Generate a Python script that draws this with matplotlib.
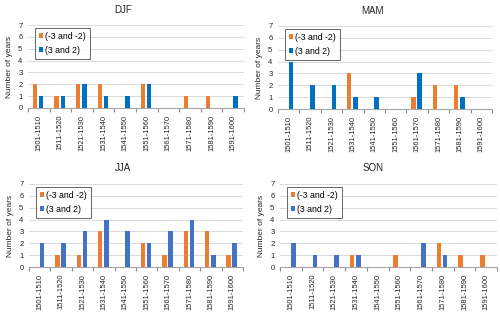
import numpy as np
import matplotlib
matplotlib.use("Agg")
import matplotlib.pyplot as plt
from matplotlib.ticker import FixedLocator

# ============================================================
#  Data
# ============================================================
decades = ["1501-1510", "1511-1520", "1521-1530", "1531-1540", "1541-1550",
           "1551-1560", "1561-1570", "1571-1580", "1581-1590", "1591-1600"]

djf_neg = [2, 1, 2, 2, 0, 2, 0, 1, 1, 0]
djf_pos = [1, 1, 2, 1, 1, 2, 0, 0, 0, 1]
mam_neg = [0, 0, 0, 3, 0, 0, 1, 2, 2, 0]
mam_pos = [4, 2, 2, 1, 1, 0, 3, 0, 1, 0]
jja_neg = [0, 1, 1, 3, 0, 2, 1, 3, 3, 1]
jja_pos = [2, 2, 3, 4, 3, 2, 3, 4, 1, 2]
son_neg = [0, 0, 0, 1, 0, 1, 0, 2, 1, 1]
son_pos = [2, 1, 1, 1, 0, 0, 2, 1, 0, 0]

labels = ["(-3 and -2)", "(3 and 2)"]
ORANGE = "#ED7D31"

W, H = 500, 315

# panel: title, data, blue colour, axes box in px (left, top, right, bottom), title px (x, y)
panels = [
    ("DJF", djf_neg, djf_pos, "#0070C0", (28, 25, 244, 108), (123, 10)),
    ("MAM", mam_neg, mam_pos, "#0070C0", (278, 26, 492, 109), (372, 11)),
    ("JJA", jja_neg, jja_pos, "#4472C4", (29, 184, 243, 267), (123, 168)),
    ("SON", son_neg, son_pos, "#4472C4", (280, 184, 497, 267), (373, 168)),
]

fig = plt.figure(figsize=(W / 100, H / 100), dpi=100)
plt.rcParams["font.family"] = ["Liberation Sans", "DejaVu Sans"]

x = np.arange(len(decades))
bw = 0.21

for title, neg, pos, blue, (l, t, r, b), (tx, ty) in panels:
    ax = fig.add_axes([l / W, 1 - b / H, (r - l) / W, (b - t) / H])
    ax.bar(x - 0.175, neg, width=bw, color=ORANGE, label=labels[0], zorder=3)
    ax.bar(x + 0.11, pos, width=bw, color=blue, label=labels[1], zorder=3)

    ax.set_xlim(-0.5, len(decades) - 0.5)
    ax.set_ylim(0, 7)
    ax.set_yticks(range(0, 8))
    ax.yaxis.grid(True, color="#d9d9d9", lw=0.7, zorder=0)
    ax.tick_params(axis="y", length=0, labelsize=5.5, pad=4, colors="#262626")

    ax.set_xticks(x)
    ax.set_xticklabels(decades, rotation=90, fontsize=5.4, color="#262626")
    ax.xaxis.set_minor_locator(FixedLocator(np.arange(-0.5, len(decades), 1.0)))
    ax.tick_params(axis="x", which="major", length=0, pad=5)
    ax.tick_params(axis="x", which="minor", length=3, width=0.8, color="#8c8c8c",
                   direction="out")

    for s in ("top", "right", "left"):
        ax.spines[s].set_visible(False)
    ax.spines["bottom"].set_color("#a6a6a6")
    ax.spines["bottom"].set_linewidth(0.8)

    ax.set_ylabel("Number of years", fontsize=6, labelpad=4, color="#262626")

    leg = ax.legend(loc="upper left", bbox_to_anchor=(0.032, 0.965), borderaxespad=0,
                    fontsize=6.3, handlelength=0.5, handleheight=0.5, handletextpad=0.25,
                    borderpad=0.45, labelspacing=0.55, frameon=True, fancybox=False)
    leg.get_frame().set_edgecolor("#404040")
    leg.get_frame().set_linewidth(0.7)

    fig.text(tx / W, 1 - ty / H, title, ha="center", va="center", fontsize=7,
             color="#262626")

fig.savefig("out.png", dpi=100)
